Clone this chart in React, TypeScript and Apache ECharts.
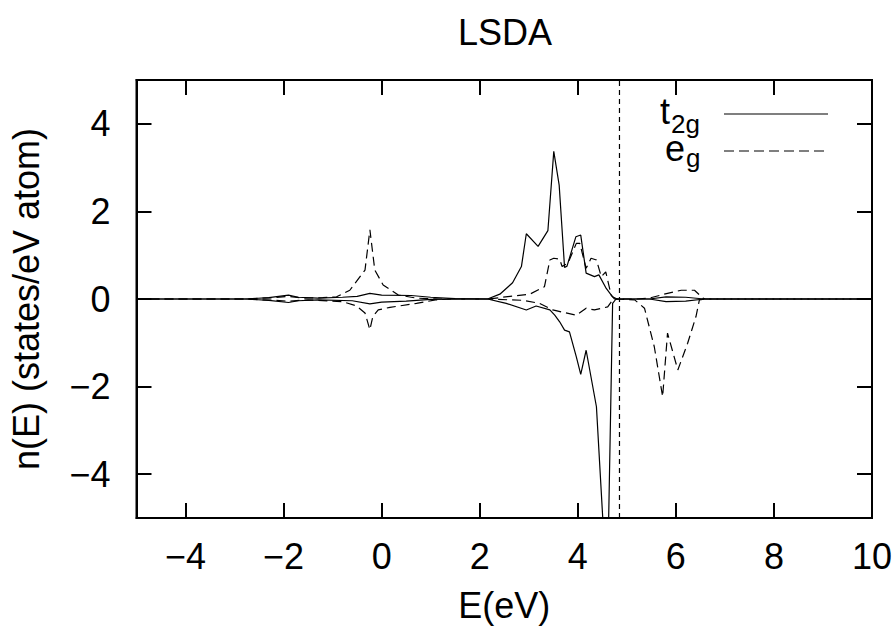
import React, { useEffect, useRef } from "react";
import * as echarts from "echarts";

// Energy axis (eV) and density of states (states/eV atom)
const chartTitle = "LSDA";
const xAxisName = "E(eV)";
const yAxisName = "n(E) (states/eV atom)";
const xTicks = [-4, -2, 0, 2, 4, 6, 8, 10];
const yTicks = [-4, -2, 0, 2, 4];
const fermiEnergy = 4.85;

// t2g, spin up (positive) and spin down (negative): [E, n]
const t2gUp: number[][] = [
  [-5, 0], [-2.8, 0], [-2.3, 0.03], [-1.9, 0.09], [-1.7, 0.04], [-1.3, 0.02],
  [-0.8, 0.04], [-0.5, 0.06], [-0.24, 0.13], [0, 0.09], [0.6, 0.08], [1.0, 0.04],
  [1.5, 0.01], [2.16, 0], [2.41, 0.11], [2.67, 0.37], [2.85, 0.74], [2.95, 1.49],
  [3.19, 1.2], [3.39, 1.56], [3.51, 3.37], [3.62, 2.6], [3.73, 0.72], [3.78, 0.75],
  [3.96, 1.42], [4.06, 1.46], [4.17, 0.59], [4.34, 0.51], [4.43, 0.55], [4.58, 0.24],
  [4.71, 0.05], [4.8, 0], [5.46, 0], [5.8, 0.05], [6.2, 0.04], [6.58, 0], [10, 0],
];
const t2gDown: number[][] = [
  [-5, 0], [-2.8, 0], [-2.3, -0.03], [-1.9, -0.08], [-1.7, -0.04], [-1.3, -0.02],
  [-0.6, -0.04], [-0.24, -0.11], [0, -0.07], [0.5, -0.05], [1.0, -0.01], [1.6, 0],
  [2.16, 0], [2.54, -0.1], [2.95, -0.25], [3.15, -0.16], [3.43, -0.25], [3.53, -0.37],
  [3.63, -0.52], [3.73, -0.71], [3.83, -0.75], [3.97, -1.32], [4.06, -1.72],
  [4.17, -1.17], [4.38, -2.46], [4.6, -6.8], [4.71, -0.1], [4.78, 0], [5.46, 0],
  [5.8, -0.06], [6.2, -0.05], [6.58, 0], [10, 0],
];
// eg, spin up and spin down
const egUp: number[][] = [
  [-5, 0], [-2.8, 0], [-2.2, 0.03], [-1.9, 0.06], [-1.6, 0.02], [-1.2, 0.03],
  [-0.92, 0.05], [-0.65, 0.2], [-0.34, 0.66], [-0.24, 1.58], [-0.14, 0.66],
  [0.03, 0.32], [0.34, 0.09], [0.71, 0.02], [1.2, 0], [2.16, 0], [3.02, 0.11],
  [3.32, 0.28], [3.43, 0.89], [3.51, 0.93], [3.63, 0.91], [3.68, 0.74], [3.8, 0.82],
  [3.97, 1.27], [4.04, 1.27], [4.17, 0.7], [4.27, 0.93], [4.38, 0.89], [4.48, 0.51],
  [4.57, 0.62], [4.68, 0.09], [4.75, 0], [5.2, 0], [5.46, 0.02], [5.83, 0.13],
  [6.11, 0.2], [6.38, 0.2], [6.55, 0.02], [6.6, 0], [10, 0],
];
const egDown: number[][] = [
  [-5, 0], [-2.8, 0], [-2.2, -0.03], [-1.9, -0.05], [-1.5, -0.02], [-0.8, -0.06],
  [-0.51, -0.16], [-0.34, -0.32], [-0.24, -0.7], [-0.18, -0.4], [-0.07, -0.25],
  [0.17, -0.19], [0.71, -0.1], [1.1, -0.02], [1.4, 0], [2.16, 0], [2.88, -0.03],
  [3.22, -0.1], [3.49, -0.25], [3.97, -0.37], [4.17, -0.21], [4.34, -0.25],
  [4.61, -0.18], [4.71, -0.02], [4.8, 0], [5.16, -0.02], [5.36, -0.21], [5.56, -1.09],
  [5.73, -2.23], [5.83, -0.78], [6.04, -1.62], [6.24, -1.01], [6.41, -0.4],
  [6.48, -0.02], [6.6, 0], [10, 0],
];
const yRange = [-5, 5];
const xRange = [-5, 10];

const FONT = "'Liberation Sans', Arial, Helvetica, sans-serif";
const fmt = (v: number) => (v < 0 ? "\u2212" + Math.abs(v) : String(v));

export default function App() {
  const ref = useRef<HTMLDivElement>(null);
  useEffect(() => {
    if (!ref.current) return;
    const chart = echarts.init(ref.current, null, { renderer: "svg" });
    const axisLine = { show: true, onZero: false, lineStyle: { color: "#000", width: 2 } };
    const tick = (vals: number[]) => ({
      show: true,
      inside: true,
      length: 15,
      customValues: vals,
      lineStyle: { color: "#000", width: 2 },
    });
    const solid = { color: "#000", width: 1.2, type: "solid" as const };
    const dashed = { color: "#000", width: 1.2, type: [9, 5] };
    const lineSeries = (name: string, data: number[][], ls: any) => ({
      name,
      type: "line",
      data,
      showSymbol: false,
      symbol: "none",
      lineStyle: ls,
      clip: true,
      silent: true,
      xAxisIndex: 0,
      yAxisIndex: 0,
    });
    chart.setOption({
      animation: false,
      backgroundColor: "#fff",
      textStyle: { fontFamily: FONT },
      title: {
        text: chartTitle,
        left: 458,
        top: 14,
        padding: 0,
        textStyle: { fontSize: 36, fontWeight: "normal", color: "#000", fontFamily: FONT },
      },
      grid: {
        left: 136.5,
        right: 22,
        top: 80,
        bottom: 113,
        show: true,
        borderColor: "#000",
        borderWidth: 2,
        containLabel: false,
        outerBoundsMode: "none",
      },
      xAxis: [
        {
          type: "value",
          min: xRange[0],
          max: xRange[1],
          position: "bottom",
          name: xAxisName,
          nameLocation: "middle",
          nameGap: 69,
          nameTextStyle: { fontSize: 36, color: "#000", fontFamily: FONT },
          axisLine,
          axisTick: tick(xTicks),
          axisLabel: {
            customValues: xTicks,
            formatter: fmt,
            fontSize: 36,
            color: "#000",
            margin: 20,
            fontFamily: FONT,
          },
          splitLine: { show: false },
        },
        {
          type: "value",
          min: xRange[0],
          max: xRange[1],
          position: "top",
          axisLine,
          axisTick: tick(xTicks),
          axisLabel: { show: false },
          splitLine: { show: false },
        },
      ],
      yAxis: [
        {
          type: "value",
          min: yRange[0],
          max: yRange[1],
          position: "left",
          name: yAxisName,
          nameLocation: "middle",
          nameGap: 92,
          nameTextStyle: { fontSize: 36, color: "#000", fontFamily: FONT },
          axisLine,
          axisTick: tick(yTicks),
          axisLabel: {
            customValues: yTicks,
            formatter: fmt,
            fontSize: 36,
            color: "#000",
            margin: 26,
            fontFamily: FONT,
          },
          splitLine: { show: false },
        },
        {
          type: "value",
          min: yRange[0],
          max: yRange[1],
          position: "right",
          axisLine,
          axisTick: tick(yTicks),
          axisLabel: { show: false },
          splitLine: { show: false },
        },
      ],
      series: [
        lineSeries("t2g up", t2gUp, solid),
        lineSeries("t2g down", t2gDown, solid),
        lineSeries("eg up", egUp, dashed),
        lineSeries("eg down", egDown, dashed),
        lineSeries(
          "E_F",
          [
            [fermiEnergy, yRange[0]],
            [fermiEnergy, yRange[1]],
          ],
          { color: "#000", width: 1.2, type: [5, 4] }
        ),
      ],
      graphic: [
        { type: "text", x: 670, y: 111, style: { text: "t", fontSize: 36, fontFamily: FONT, fill: "#000", align: "right", verticalAlign: "middle" } },
        { type: "text", x: 671, y: 124, style: { text: "2g", fontSize: 26, fontFamily: FONT, fill: "#000", align: "left", verticalAlign: "middle" } },
        { type: "text", x: 685, y: 148, style: { text: "e", fontSize: 36, fontFamily: FONT, fill: "#000", align: "right", verticalAlign: "middle" } },
        { type: "text", x: 686, y: 158, style: { text: "g", fontSize: 26, fontFamily: FONT, fill: "#000", align: "left", verticalAlign: "middle" } },
        { type: "line", shape: { x1: 724, y1: 114, x2: 828, y2: 114 }, style: { stroke: "#000", lineWidth: 1.2 } },
        { type: "line", shape: { x1: 724, y1: 151, x2: 828, y2: 151 }, style: { stroke: "#000", lineWidth: 1.2, lineDash: [10, 5] } },
      ],
    });
    return () => chart.dispose();
  }, []);
  return (
    <div
      ref={ref}
      style={{ position: "fixed", left: 0, top: 0, width: 894, height: 631, background: "#fff" }}
    />
  );
}
